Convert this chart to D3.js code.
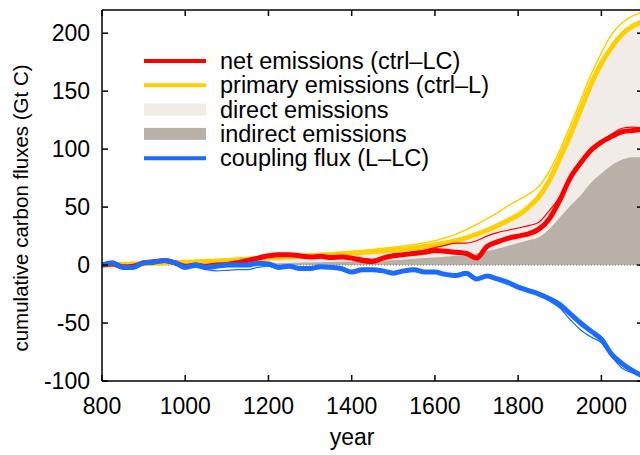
<!DOCTYPE html>
<head>
  <meta charset="utf-8">
  <style>
    body { margin: 0; background: #fff; }
    text { font-family: "Liberation Sans", Arial, sans-serif; fill: #000; }
  </style>
  <script src="https://cdn.jsdelivr.net/npm/d3@7"></script>
</head>
<body>
  <script>
    // years sampled every 25 years
    var years = d3.range(800, 2101, 25);

    // primary emissions (ctrl-L), ensemble mean and one member
    var primary = [0, 0.3, 0.6, 0.9, 1.2, 1.5, 1.8, 2.1, 2.4, 2.8, 3.2, 3.6, 4.0, 4.5, 5.0, 5.5,
                   6.0, 6.5, 7.0, 7.5, 8.0, 8.5, 9.0, 9.6, 10.2, 10.8, 11.5, 12.2, 13.0, 13.8, 14.8, 16.0,
                   17.5, 19.0, 21.0, 23.5, 26.5, 30, 34, 38.5, 43, 50, 59, 73, 92, 112, 134, 156,
                   174, 188, 199, 206, 210];
    var primaryMember = [0, 0.5, 0.9, 1.3, 1.6, 2.0, 2.3, 2.6, 3.0, 3.4, 3.8, 4.3, 4.8, 5.3, 5.8, 6.4,
                   7.0, 7.5, 8.1, 8.7, 9.3, 9.9, 10.5, 11.2, 11.9, 12.6, 13.5, 14.4, 15.4, 16.4, 17.6, 19.2,
                   21, 23.5, 26.5, 30.5, 35, 40, 45, 51, 56, 61, 68, 81, 99, 120, 142, 164,
                   183, 199, 209, 215, 218];

    // indirect emissions (shaded, grey)
    var indirect = [0, 0, 0, 0.1, 0.2, 0.3, 0.4, 0.5, 0.6, 0.7, 0.8, 0.9, 1.0, 1.1, 1.2, 1.3,
                    1.4, 1.6, 1.8, 2.0, 2.2, 2.4, 2.6, 2.8, 3.0, 3.3, 3.6, 3.9, 4.2, 4.8, 5.5, 6.0,
                    6.5, 7.2, 8.0, 9.0, 10, 12, 14, 16.5, 19, 21.5, 24, 31, 41, 51, 60, 71,
                    79, 86, 91, 93, 93];

    // net emissions (ctrl-LC)
    var net = [0, 1, -1.5, -1, 2, 3, 4, 2, -1, 0, -1, 0, 0.5, 2, 4, 6,
               8, 9, 9, 8, 7, 7.5, 6.5, 7, 6, 4, 3, 6, 8, 9, 10, 11,
               12.5, 12, 11, 10, 6, 16, 20, 23, 25, 27, 31, 40, 56, 75, 88, 99,
               106, 111, 115, 116, 117];
    var netMember = [0, 0.5, -2, -0.5, 1.5, 3.5, 3, 1, -2, -0.5, -1.5, 0.5, 1, 2.5, 5, 7,
               9, 10, 9.5, 9, 8, 8.5, 7.5, 8, 7, 6, 5, 7, 9, 10, 11, 13,
               15, 17, 19, 19, 21, 25, 28, 30, 32, 34, 37, 47, 59, 77, 90, 100,
               107, 113, 118, 119, 118];

    // coupling flux (L-LC)
    var coupling = [0, 2, -2, -2, 2, 2.5, 4, 2, -2, 0, -2, -1, 0, 0, 0, 1.5,
                    1, -2, -1, -3, -3, -1.5, -2, -3, -6, -4, -4, -5, -7, -5, -4, -6,
                    -6, -8, -9, -7, -12, -9.5, -12, -15, -19, -22, -25, -29, -34, -42, -50, -57,
                    -64, -77, -85, -91, -96];
    var couplingMember = [0, 1, -2.5, -3, 1, 2, 3, 1, -3, -2, -4, -5, -4.5, -4, -4, -2,
                    -1, -3, -2, -4, -4, -2.5, -3, -4, -6.5, -5, -5, -6, -8, -6, -5, -7,
                    -7, -9, -10, -8, -12.5, -10.5, -13, -16, -20, -23, -26, -31, -37, -47, -56, -62,
                    -67, -79, -89, -93, -97];

    var yTicks = [-100, -50, 0, 50, 100, 150, 200];
    var xTicks = [800, 1000, 1200, 1400, 1600, 1800, 2000];

    var legendItems = [
      {label: "net emissions (ctrl\u2013LC)", type: "line", color: "#ff0000"},
      {label: "primary emissions (ctrl\u2013L)", type: "line", color: "#ffd000"},
      {label: "direct emissions", type: "patch", color: "#f1ece7"},
      {label: "indirect emissions", type: "patch", color: "#b9b0a7"},
      {label: "coupling flux (L\u2013LC)", type: "line", color: "#1a6bff"}
    ];

    var w = 640, h = 455;
    var x = d3.scaleLinear().domain([800, 2100]).range([102, 643]);
    var y = d3.scaleLinear().domain([-100, 220]).range([381, 10]);

    var svg = d3.select("body").append("svg")
      .attr("width", w)
      .attr("height", h);

    svg.append("clipPath").attr("id", "plot")
      .append("rect")
      .attr("x", 102).attr("y", 10)
      .attr("width", 541).attr("height", 371);

    var g = svg.append("g").attr("clip-path", "url(#plot)");

    var idx = d3.range(years.length);

    // direct emissions area (under primary emissions)
    g.append("path")
      .datum(idx)
      .attr("fill", "#f1ece7")
      .attr("d", d3.area()
        .x(function(i) { return x(years[i]); })
        .y0(y(0))
        .y1(function(i) { return y(primary[i]); })
        .curve(d3.curveMonotoneX));

    // indirect emissions area
    g.append("path")
      .datum(idx)
      .attr("fill", "#b9b0a7")
      .attr("d", d3.area()
        .x(function(i) { return x(years[i]); })
        .y0(y(0))
        .y1(function(i) { return y(indirect[i]); })
        .curve(d3.curveMonotoneX));

    // zero line
    g.append("line")
      .attr("x1", 102).attr("x2", 643)
      .attr("y1", y(0)).attr("y2", y(0))
      .attr("stroke", "#777")
      .attr("stroke-width", 1)
      .attr("stroke-dasharray", "1,2");

    function drawLine(values, color, width) {
      g.append("path")
        .datum(idx)
        .attr("fill", "none")
        .attr("stroke", color)
        .attr("stroke-width", width)
        .attr("stroke-linejoin", "round")
        .attr("d", d3.line()
          .x(function(i) { return x(years[i]); })
          .y(function(i) { return y(values[i]); })
          .curve(d3.curveMonotoneX));
    }

    drawLine(primaryMember, "#ffd000", 1.5);
    drawLine(primary, "#ffd000", 5);
    drawLine(netMember, "#ff0000", 1.2);
    drawLine(net, "#ff0000", 5);
    drawLine(couplingMember, "#1a6bff", 1.2);
    drawLine(coupling, "#1a6bff", 5);

    // frame and ticks
    var frame = svg.append("g").attr("stroke", "#000").attr("stroke-width", 1.5);
    frame.append("line").attr("x1", 102).attr("x2", 102).attr("y1", 10).attr("y2", 381);
    frame.append("line").attr("x1", 102).attr("x2", 643).attr("y1", 381).attr("y2", 381);
    frame.append("line").attr("x1", 102).attr("x2", 643).attr("y1", 10).attr("y2", 10);

    frame.selectAll(".yt").data(yTicks).enter().append("line")
      .attr("x1", 102).attr("x2", 108)
      .attr("y1", function(d) { return y(d); })
      .attr("y2", function(d) { return y(d); });
    frame.selectAll(".yr").data(yTicks).enter().append("line")
      .attr("x1", 637).attr("x2", 643)
      .attr("y1", function(d) { return y(d); })
      .attr("y2", function(d) { return y(d); });
    frame.selectAll(".xb").data(xTicks).enter().append("line")
      .attr("x1", function(d) { return x(d); })
      .attr("x2", function(d) { return x(d); })
      .attr("y1", 381).attr("y2", 375);
    frame.selectAll(".xt").data(xTicks).enter().append("line")
      .attr("x1", function(d) { return x(d); })
      .attr("x2", function(d) { return x(d); })
      .attr("y1", 10).attr("y2", 16);

    svg.selectAll(".ylab").data(yTicks).enter().append("text")
      .attr("x", 90)
      .attr("y", function(d) { return y(d) + 8; })
      .attr("text-anchor", "end")
      .attr("font-size", "23px")
      .text(function(d) { return d; });

    svg.selectAll(".xlab").data(xTicks).enter().append("text")
      .attr("x", function(d) { return x(d); })
      .attr("y", 414)
      .attr("text-anchor", "middle")
      .attr("font-size", "23px")
      .text(function(d) { return d; });

    svg.append("text")
      .attr("x", 352).attr("y", 445)
      .attr("text-anchor", "middle")
      .attr("font-size", "23px")
      .text("year");

    svg.append("text")
      .attr("transform", "translate(28,208) rotate(-90)")
      .attr("text-anchor", "middle")
      .attr("font-size", "20.5px")
      .text("cumulative carbon fluxes (Gt C)");

    // legend
    var legend = svg.selectAll(".leg").data(legendItems).enter().append("g")
      .attr("transform", function(d, i) { return "translate(144," + (61 + i * 24.3) + ")"; });

    legend.filter(function(d) { return d.type === "line"; })
      .append("line")
      .attr("x1", 0).attr("x2", 62)
      .attr("stroke", function(d) { return d.color; })
      .attr("stroke-width", 4);

    legend.filter(function(d) { return d.type === "patch"; })
      .append("rect")
      .attr("x", 0).attr("y", -6)
      .attr("width", 62).attr("height", 12)
      .attr("fill", function(d) { return d.color; });

    legend.append("text")
      .attr("x", 76).attr("y", 8)
      .attr("font-size", "23.5px")
      .text(function(d) { return d.label; });
  </script>
</body>
